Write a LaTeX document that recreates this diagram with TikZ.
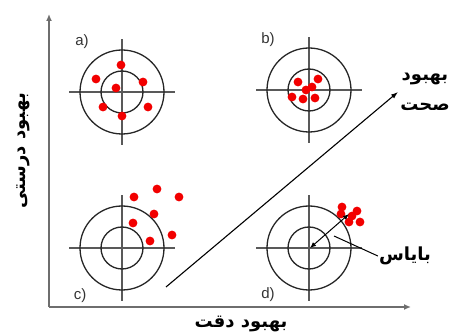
\documentclass[tikz,border=0pt]{standalone}
\usepackage{fontspec}
\setmainfont{Liberation Sans}
\newfontfamily\farsi[Script=Arabic]{DejaVu Sans}
\TeXXeTstate=1
\usetikzlibrary{arrows.meta}
\definecolor{axisgray}{HTML}{6E6E6E}
\definecolor{dotred}{HTML}{F20000}

\begin{document}
\begin{tikzpicture}[x=1pt, y=1pt,
    axis/.style={draw=axisgray, line width=2pt, -{Latex[length=7pt,width=6pt]}},
    ring/.style={draw=black!85, line width=1.3pt},
    cross/.style={draw=black!65, line width=1.1pt},
    shot/.style={fill=dotred},
    tag/.style={font=\fontsize{15}{15}\selectfont, text=black!80},
    fa/.style={font=\farsi\bfseries\fontsize{18}{30}\selectfont, inner sep=1pt}]
    \useasboundingbox (0,0) rectangle (456,335);

    % Axes
    \coordinate (o) at (49, 28);
    \coordinate (ytop) at (49, 321);
    \coordinate (xend) at (411, 28);
    \draw[axis] (o) -- (ytop);
    \draw[axis] (o) -- (xend);
    \node[fa, rotate=90] (ylab) at (23, 184) {\beginR بهبود درستی\endR};
    \node[fa] (xlab) at (241, 11) {\beginR بهبود دقت\endR};

    % Targets
    \foreach \cx/\cy/\lab/\lx/\ly in {122/243/a/82/293, 309/245/b/268/295,
                                     122/87/c/80/39, 309/87/d/268/40} {
        \draw[cross] (\cx-53, \cy) -- (\cx+53, \cy);
        \draw[cross] (\cx, \cy-53) -- (\cx, \cy+53);
        \draw[ring] (\cx, \cy) circle (42);
        \draw[ring] (\cx, \cy) circle (21);
        \node[tag] (tag\lab) at (\lx, \ly) {\lab)};
    }

    % Shots
    \foreach \p in {(121,270), (96,256), (143,253), (116,247), (103,228), (122,219), (148,228)}
        \fill[shot] \p circle (4.4);
    \foreach \p in {(298,253), (318,256), (312,248), (306,245), (292,238), (303,236), (315,237)}
        \fill[shot] \p circle (4.4);
    \foreach \p in {(134,138), (157,146), (179,138), (154,121), (133,112), (172,100), (150,94)}
        \fill[shot] \p circle (4.4);
    \foreach \p in {(342,128), (357,124), (341,121), (349,113), (360,113), (352,119)}
        \fill[shot] \p circle (4.4);

    % Accuracy arrow
    \coordinate (diag0) at (166, 48);
    \coordinate (diag1) at (398, 243);
    \draw[line width=1.1pt, -{Latex[length=7pt,width=5pt]}] (diag0) -- (diag1);
    \node[fa, align=center] (acc) at (425, 243) {\beginR بهبود\endR\\\beginR صحت\endR};

    % Bias
    \coordinate (dc) at (310, 87);
    \coordinate (dm) at (349, 121);
    \draw[line width=1pt, {Latex[length=6pt,width=5pt]}-{Latex[length=6pt,width=5pt]}] (dc) -- (dm);
    \node[fa] (bias) at (405, 79) {\beginR بایاس\endR};
    \coordinate (bp) at (334, 99);
    \draw[line width=1pt] (bp) -- (bias.west);
\end{tikzpicture}
\end{document}
